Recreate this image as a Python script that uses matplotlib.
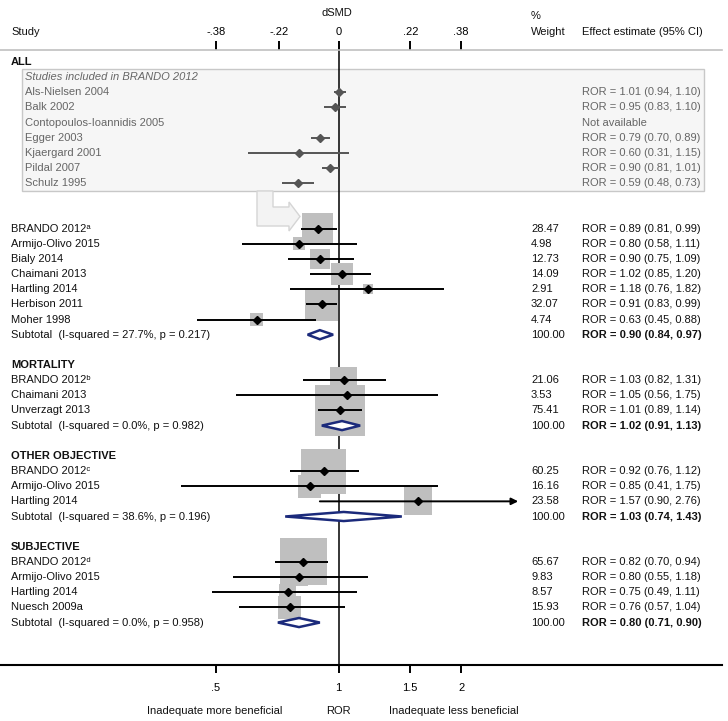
"""Forest plot: ratio of odds ratios (ROR) by outcome type, with dSMD scale on top."""
import numpy as np
import matplotlib
matplotlib.use("Agg")
import matplotlib.pyplot as plt
from matplotlib.patches import Rectangle, Polygon
from matplotlib.transforms import blended_transform_factory

plt.rcParams['font.family'] = ['Liberation Sans', 'DejaVu Sans']
plt.rcParams['font.size'] = 8

# --- data -------------------------------------------------------------
box_names = ['Als-Nielsen 2004', 'Balk 2002', 'Contopoulos-Ioannidis 2005',
             'Egger 2003', 'Kjaergard 2001', 'Pildal 2007', 'Schulz 1995']
box_est = [1.01, 0.95, np.nan, 0.79, 0.60, 0.90, 0.59]
box_lo = [0.94, 0.83, np.nan, 0.70, 0.31, 0.81, 0.48]
box_hi = [1.10, 1.10, np.nan, 0.89, 1.15, 1.01, 0.73]

group_titles = ['ALL', 'MORTALITY', 'OTHER OBJECTIVE', 'SUBJECTIVE']
group_names = [
    ['BRANDO 2012\u1d43', 'Armijo-Olivo 2015', 'Bialy 2014', 'Chaimani 2013',
     'Hartling 2014', 'Herbison 2011', 'Moher 1998'],
    ['BRANDO 2012\u1d47', 'Chaimani 2013', 'Unverzagt 2013'],
    ['BRANDO 2012\u1d9c', 'Armijo-Olivo 2015', 'Hartling 2014'],
    ['BRANDO 2012\u1d48', 'Armijo-Olivo 2015', 'Hartling 2014', 'Nuesch 2009a'],
]
group_weights = [
    [28.47, 4.98, 12.73, 14.09, 2.91, 32.07, 4.74],
    [21.06, 3.53, 75.41],
    [60.25, 16.16, 23.58],
    [65.67, 9.83, 8.57, 15.93],
]
group_est = [
    [0.89, 0.80, 0.90, 1.02, 1.18, 0.91, 0.63],
    [1.03, 1.05, 1.01],
    [0.92, 0.85, 1.57],
    [0.82, 0.80, 0.75, 0.76],
]
group_lo = [
    [0.81, 0.58, 0.75, 0.85, 0.76, 0.83, 0.45],
    [0.82, 0.56, 0.89],
    [0.76, 0.41, 0.90],
    [0.70, 0.55, 0.49, 0.57],
]
group_hi = [
    [0.99, 1.11, 1.09, 1.20, 1.82, 0.99, 0.88],
    [1.31, 1.75, 1.14],
    [1.12, 1.75, 2.76],
    [0.94, 1.18, 1.11, 1.04],
]
sub_est = [0.90, 1.02, 1.03, 0.80]
sub_lo = [0.84, 0.91, 0.74, 0.71]
sub_hi = [0.97, 1.13, 1.43, 0.90]
sub_i2 = [27.7, 0.0, 38.6, 0.0]
sub_p = [0.217, 0.982, 0.196, 0.958]

ror_ticks = [0.5, 1, 1.5, 2]
ror_ticklabels = ['.5', '1', '1.5', '2']
# top dSMD ticks, placed where the original draws them (-.22 is off its true spot)
dsmd_tick_pos = [0.5, 0.715, 1, 1.5, 2]
dsmd_ticklabels = ['-.38', '-.22', '0', '.22', '.38']

# --- layout -----------------------------------------------------------
W, H = 728, 721
fig = plt.figure(figsize=(W / 100, H / 100), dpi=100)
ax = fig.add_axes([0, (H - 665) / H, 722 / W, (665 - 50) / H])
ax.set_xscale('log')
ax.set_xlim(np.exp(-338.5 / 177), np.exp((722 - 338.5) / 177))
row_px = 15.15
ax.set_ylim((665 - 62) / row_px, (50 - 62) / row_px)

trans = blended_transform_factory(fig.transFigure, ax.transData)


def put(xpix, row, s, **kw):
    kw.setdefault('va', 'center')
    ax.text(xpix / W, row, s, transform=trans, clip_on=False, **kw)


def px_to_row(ypix):
    return (ypix - 62) / row_px


TXT = '#111111'
GREY_TXT = '#666666'
NAVY = '#1b2a7b'
SQ = '#bfbfbf'
X_NAME, X_W, X_EFF = 11, 531, 582

# box side in pixels = 5.8*sqrt(weight); convert to ln units / rows
def square(est, w, row):
    side = 5.8 * np.sqrt(w)
    hx = side / 2 / 177
    hy = side / 2 / row_px
    ax.add_patch(Rectangle((est * np.exp(-hx), row - hy),
                           est * (np.exp(hx) - np.exp(-hx)), 2 * hy,
                           facecolor=SQ, edgecolor='none', zorder=2))


# header
put(X_NAME, px_to_row(32), 'Study', color=TXT)
put(337, px_to_row(13), 'dSMD', color=TXT, ha='center')
put(X_W, px_to_row(16), '%', color=TXT)
put(X_W, px_to_row(32), 'Weight', color=TXT)
put(X_EFF, px_to_row(32), 'Effect estimate (95% CI)', color=TXT)

# null line
ax.axvline(1, color='black', lw=1.1, zorder=1)

# ALL section with the BRANDO 2012 inset box
row = 0
put(X_NAME, row, group_titles[0], color=TXT, weight='bold')
ax.add_patch(Rectangle((22 / W, px_to_row(69)), (704 - 22) / W,
                       px_to_row(191) - px_to_row(69), transform=trans,
                       facecolor='#f6f6f6', edgecolor='#c8c8c8', lw=1.0,
                       zorder=0.5, clip_on=False))
row += 1
put(25, row, 'Studies included in BRANDO 2012', color=GREY_TXT, style='italic')
for name, e, lo, hi in zip(box_names, box_est, box_lo, box_hi):
    row += 1
    put(25, row, name, color=GREY_TXT)
    if np.isnan(e):
        put(X_EFF, row, 'Not available', color=GREY_TXT)
        continue
    put(X_EFF, row, f'ROR = {e:.2f} ({lo:.2f}, {hi:.2f})', color=GREY_TXT)
    # the original draws these on log10 instead of ln
    k = 1 / np.log(10)
    ax.plot([lo ** k, hi ** k], [row, row], color='#555555', lw=1.4, zorder=3,
            solid_capstyle='butt')
    ax.plot(e ** k, row, marker='D', ms=4, color='#555555', zorder=4)

# arrow from inset box to BRANDO 2012 row
arrow_px = [(257, 191), (273, 191), (273, 207), (289, 207), (289, 202),
            (300, 216.5), (289, 231), (289, 226), (257, 226)]
ax.add_patch(Polygon([(x / W, px_to_row(y)) for x, y in arrow_px],
                     closed=True, transform=trans, facecolor='#f3f3f3',
                     edgecolor='#d5d5d5', lw=1.0, zorder=1.5))
row += 2

for g in range(len(group_titles)):
    if g > 0:
        row += 2
        put(X_NAME, row, group_titles[g], color=TXT, weight='bold')
    for name, w, e, lo, hi in zip(group_names[g], group_weights[g], group_est[g],
                                  group_lo[g], group_hi[g]):
        row += 1
        put(X_NAME, row, name, color=TXT)
        put(X_W, row, f'{w:.2f}', color=TXT)
        put(X_EFF, row, f'ROR = {e:.2f} ({lo:.2f}, {hi:.2f})', color=TXT)
        square(e, w, row)
        if hi > 2.5:
            ax.annotate('', xy=(hi, row), xytext=(lo, row),
                        arrowprops=dict(arrowstyle='-|>,head_length=0.5,head_width=0.25',
                                        color='black', lw=1.4, shrinkA=0, shrinkB=0),
                        zorder=3)
        else:
            ax.plot([lo, hi], [row, row], color='black', lw=1.4, zorder=3,
                    solid_capstyle='butt')
        ax.plot(e, row, marker='D', ms=4, color='black', zorder=4)
    row += 1
    put(X_NAME, row, f'Subtotal  (I-squared = {sub_i2[g]:.1f}%, p = {sub_p[g]:.3f})',
        color=TXT)
    put(X_W, row, '100.00', color=TXT)
    put(X_EFF, row, f'ROR = {sub_est[g]:.2f} ({sub_lo[g]:.2f}, {sub_hi[g]:.2f})',
        color=TXT, weight='bold')
    d = 0.3
    ax.add_patch(Polygon([(sub_lo[g], row), (sub_est[g], row - d),
                          (sub_hi[g], row), (sub_est[g], row + d)],
                         closed=True, facecolor='white', edgecolor=NAVY,
                         lw=1.8, zorder=4))

# axes
for side in ['left', 'right']:
    ax.spines[side].set_visible(False)
ax.spines['top'].set_color('#c0c0c0')
ax.spines['top'].set_linewidth(1.2)
ax.spines['bottom'].set_linewidth(1.5)
ax.set_yticks([])
ax.xaxis.set_minor_locator(matplotlib.ticker.NullLocator())
ax.set_xticks(ror_ticks, labels=ror_ticklabels)
ax.tick_params(axis='x', direction='out', length=6, width=1.4, pad=7,
               labelsize=8, top=False)

sec = ax.secondary_xaxis('top')
sec.xaxis.set_minor_locator(matplotlib.ticker.NullLocator())
sec.set_xticks(dsmd_tick_pos, labels=dsmd_ticklabels)
sec.spines['top'].set_visible(False)
sec.tick_params(direction='out', length=6.5, width=1.4, pad=3, labelsize=8)

put(215, px_to_row(711), 'Inadequate more beneficial', color=TXT, ha='center')
put(338, px_to_row(711), 'ROR', color=TXT, ha='center')
put(454, px_to_row(711), 'Inadequate less beneficial', color=TXT, ha='center')

fig.savefig('out.png', dpi=100, facecolor='white')
